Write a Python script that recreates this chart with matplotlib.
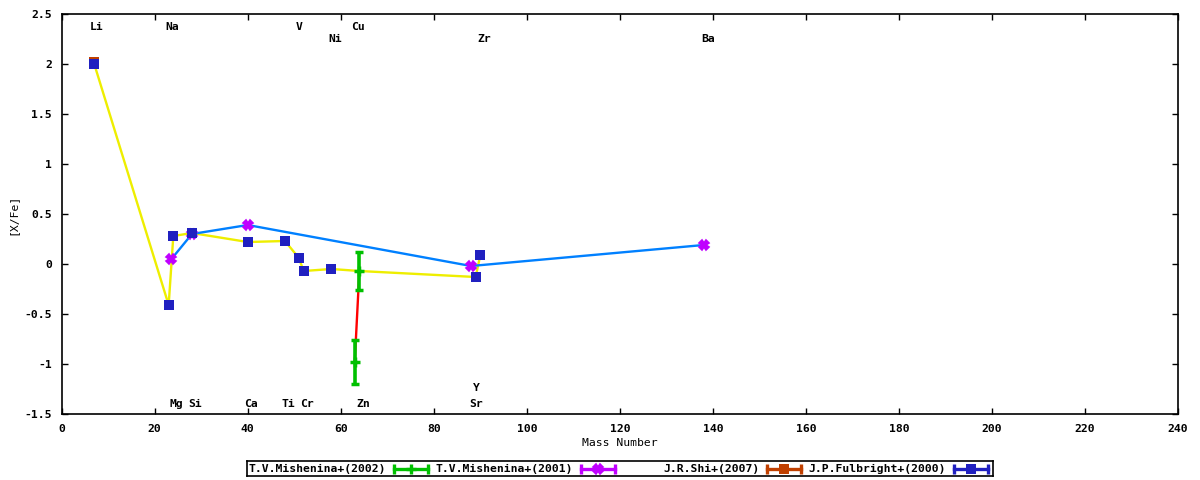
import matplotlib
matplotlib.use('Agg')
import matplotlib.pyplot as plt
from matplotlib.ticker import FormatStrFormatter

# Mishenina+(2002): Zn, Cu with error bars
mish2002_mass = [64, 63]
mish2002_xfe = [-0.07, -0.98]
mish2002_err = [0.19, 0.22]

# Mishenina+(2001): Mg, Si, Ca, Sr, Ba
mish2001_mass = [23.6, 28, 40, 88, 138]
mish2001_xfe = [0.05, 0.30, 0.39, -0.02, 0.19]

# Shi+(2007): Li
shi_mass = [7]
shi_xfe = [2.02]

# Fulbright+(2000)
fulb_mass = [7, 23, 24, 28, 40, 48, 51, 52, 58, 89, 90]
fulb_xfe = [2.00, -0.41, 0.28, 0.31, 0.22, 0.23, 0.06, -0.07, -0.05, -0.13, 0.09]

# yellow trend line through Fulbright points (and Zn)
trend_mass = [7, 23, 24, 28, 40, 48, 51, 52, 58, 64, 89, 90]
trend_xfe = [2.00, -0.41, 0.28, 0.31, 0.22, 0.23, 0.06, -0.07, -0.05, -0.07, -0.13, 0.09]

# element labels (text centre, level)
elem_names = ['Li', 'Na', 'V', 'Cu', 'Ni', 'Zr', 'Ba',
              'Mg', 'Si', 'Ca', 'Ti', 'Cr', 'Zn', 'Y', 'Sr']
elem_x = [7.6, 23.8, 51.0, 63.8, 58.9, 90.8, 139.0,
          24.7, 28.7, 40.8, 48.8, 52.8, 64.9, 89.1, 89.0]
elem_y = [2.37, 2.37, 2.37, 2.37, 2.25, 2.25, 2.25,
          -1.40, -1.40, -1.40, -1.40, -1.40, -1.40, -1.24, -1.40]

legend_names = ['T.V.Mishenina+(2002)', 'T.V.Mishenina+(2001)',
                'J.R.Shi+(2007)', 'J.P.Fulbright+(2000)']

GREEN = '#00c000'
MAGENTA = '#c000ff'
ORANGE = '#c04000'
NAVY = '#2020c0'
SKY = '#0080ff'
YELLOW = '#eeee00'
RED = '#ff0000'

plt.rcParams['font.family'] = ['DejaVu Sans Mono']
plt.rcParams['font.weight'] = 'bold'
plt.rcParams['font.size'] = 8.2

fig = plt.figure(figsize=(12, 4.8), dpi=100)
ax = fig.add_axes([0.0514, 0.1375, 0.9303, 0.8333])

# connecting lines
ax.plot(trend_mass, trend_xfe, color=YELLOW, lw=1.7, zorder=2)
ax.plot(mish2001_mass, mish2001_xfe, color=SKY, lw=1.7, zorder=2)
ax.plot(mish2002_mass, mish2002_xfe, color=RED, lw=1.7, zorder=2)

# data points
ax.errorbar(mish2002_mass, mish2002_xfe, yerr=mish2002_err, fmt='+', color=GREEN,
            ms=7, mew=2.5, elinewidth=2.6, capsize=3, capthick=2.5, zorder=3)
ax.plot(mish2001_mass, mish2001_xfe, 'X', color=MAGENTA, ms=7, mew=1.2,
        mec=MAGENTA, zorder=4)
ax.plot(shi_mass, shi_xfe, 's', color=ORANGE, ms=6.8, mew=0, zorder=4)
ax.plot(fulb_mass, fulb_xfe, 's', color=NAVY, ms=6.8, mew=0, zorder=5)

for name, x, y in zip(elem_names, elem_x, elem_y):
    ax.text(x, y, name, ha='center', va='center')

ax.set_xlim(0, 240)
ax.set_ylim(-1.5, 2.5)
ax.set_xticks(range(0, 241, 20))
ax.set_yticks([-1.5, -1, -0.5, 0, 0.5, 1, 1.5, 2, 2.5])
ax.yaxis.set_major_formatter(FormatStrFormatter('%g'))
ax.tick_params(direction='in', length=4, width=1, top=True, right=True,
               colors='black')
ax.tick_params(axis='y', pad=7)
ax.tick_params(axis='x', pad=7)
for sp in ax.spines.values():
    sp.set_linewidth(1.2)
ax.set_xlabel('Mass Number', labelpad=3)
ax.set_ylabel('[X/Fe]', labelpad=5)

# legend box drawn as its own small axes, in pixel units
lax = fig.add_axes([0.2058, 0.0083, 0.6217, 0.0313])
lax.set_xlim(0, 746)
lax.set_ylim(0, 1)
lax.set_xticks([])
lax.set_yticks([])
for sp in lax.spines.values():
    sp.set_linewidth(1.2)

leg_colors = [GREEN, MAGENTA, ORANGE, NAVY]
for i, name in enumerate(legend_names):
    tx = 139 + 186.7 * i
    lax.text(tx, 0.45, name, ha='right', va='center')
    s0, s1 = tx + 8, tx + 42
    c = leg_colors[i]
    lax.plot([s0, s1], [0.5, 0.5], color=c, lw=2.4)
    lax.plot([s0, s1], [0.5, 0.5], '|', color=c, ms=7, mew=2.4)
    mid = [(s0 + s1) / 2]
    if i == 0:
        lax.plot(mid, [0.5], '+', color=c, ms=7, mew=2.4)
    elif i == 1:
        lax.plot(mid, [0.5], 'X', color=c, ms=7, mew=1.2, mec=c)
    else:
        lax.plot(mid, [0.5], 's', color=c, ms=6.8, mew=0)

fig.savefig('out.png', dpi=100)
